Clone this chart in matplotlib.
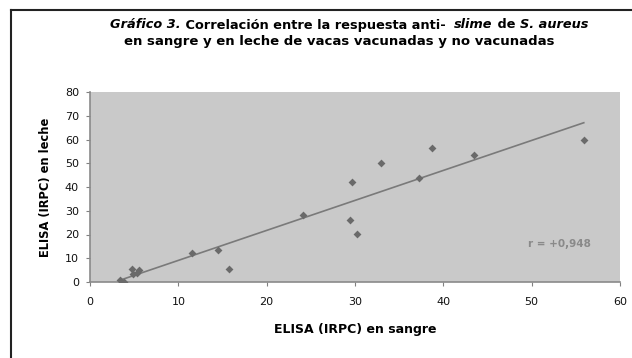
import numpy as np
import matplotlib
matplotlib.use("Agg")
import matplotlib.pyplot as plt
from matplotlib.lines import Line2D

# Data
sangre = [3.4, 3.9, 4.7, 4.9, 5.3, 5.6, 11.6, 14.5, 15.7, 24.1, 29.4, 29.7, 30.2,
          32.9, 37.2, 38.7, 43.5, 55.9]
leche = [0.8, 0.2, 5.6, 3.2, 3.9, 4.9, 12.4, 13.5, 5.4, 28.4, 26.0, 42.2, 20.4,
         50.2, 43.8, 56.5, 53.3, 59.8]
x_ticks = [0, 10, 20, 30, 40, 50, 60]
y_ticks = [0, 10, 20, 30, 40, 50, 60, 70, 80]
r_label = "r = +0,948"

plt.rcParams['font.family'] = ['DejaVu Sans']

W, H = 632, 358
fig = plt.figure(figsize=(W / 100, H / 100), dpi=100)
ax = fig.add_axes([90 / W, 1 - 282 / H, (620 - 90) / W, (282 - 92) / H])
ax.set_facecolor('#c9c9c9')

# trendline (least squares fit of the data)
xs = np.array(sangre)
ys = np.array(leche)
m, b = np.polyfit(xs, ys, 1)
xl = np.array([xs.min(), xs.max()])
ax.plot(xl, m * xl + b, color='#7a7a7a', lw=1.2, zorder=2)

ax.scatter(sangre, leche, marker='D', s=16, color='#6a6a6a', zorder=3, linewidths=0)

ax.set_xlim(0, 60)
ax.set_ylim(0, 80)
ax.set_xticks(x_ticks)
ax.set_yticks(y_ticks)
ax.tick_params(axis='both', labelsize=8, length=3, width=0.8, color='#808080',
               labelcolor='#111111')
ax.tick_params(axis='x', pad=8)
ax.tick_params(axis='y', pad=5)
for s in ['top', 'right']:
    ax.spines[s].set_visible(False)
for s in ['left', 'bottom']:
    ax.spines[s].set_color('#8a8a8a')
    ax.spines[s].set_linewidth(1.2)

ax.set_xlabel('ELISA (IRPC) en sangre', fontsize=9, fontweight='bold', labelpad=11)
ax.set_ylabel('ELISA (IRPC) en leche', fontsize=8.3, fontweight='bold', labelpad=9)

ax.text(0.945, 0.2, r_label, transform=ax.transAxes, ha='right', va='center',
        fontsize=7.5, color='#8a8a8a', fontweight='bold')

# Title made of pieces (bold / bold italic)
t1 = fig.text(110 / W, 1 - 25 / H, 'Gráfico 3.', fontsize=9.3, fontweight='bold',
              fontstyle='italic', ha='left', va='center')
pieces = [(' Correlación entre la respuesta anti-  ', 'normal'),
          ('slime', 'italic'), (' de ', 'normal'), ('S. aureus', 'italic')]
prev = t1
for txt, st in pieces:
    prev = plt.annotate(txt, xy=(1, 0), xycoords=prev, ha='left', va='bottom',
                        fontsize=9.3, fontweight='bold', fontstyle=st,
                        annotation_clip=False)
fig.text(339 / W, 1 - 42 / H, 'en sangre y en leche de vacas vacunadas y no vacunadas',
         fontsize=9.5, fontweight='bold', ha='center', va='center')

# outer frame (top and left lines)
fig.add_artist(Line2D([11 / W, 1], [1 - 10 / H, 1 - 10 / H], transform=fig.transFigure,
                      color='#222222', lw=1.5))
fig.add_artist(Line2D([11 / W, 11 / W], [0, 1 - 10 / H], transform=fig.transFigure,
                      color='#222222', lw=1.5))

fig.savefig('out.png', dpi=100)
